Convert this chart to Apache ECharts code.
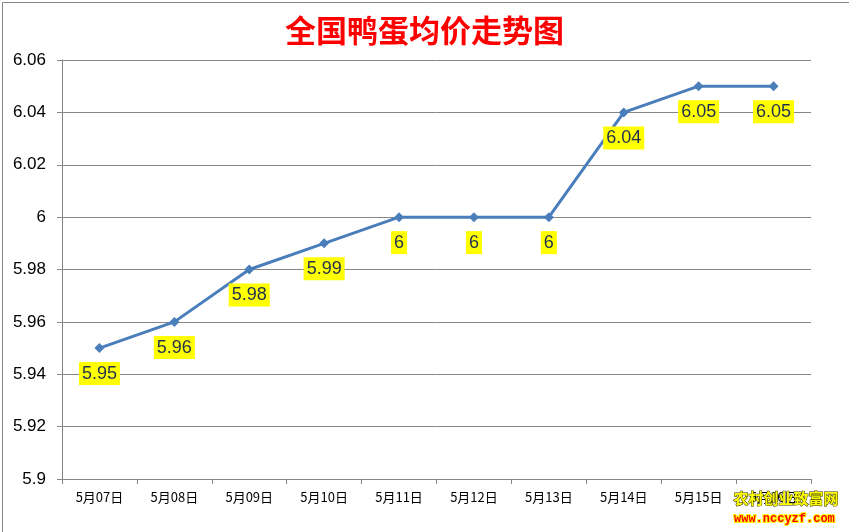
<!DOCTYPE html>
<html>
<head>
<meta charset="utf-8">
<script src="https://cdn.jsdelivr.net/npm/echarts@6/dist/echarts.min.js"></script>
<style>html,body{margin:0;padding:0;background:#fff;}#c{width:849px;height:532px;}</style>
</head>
<body>
<div id="c"></div>
<script>
var categories = ['5月07日','5月08日','5月09日','5月10日','5月11日','5月12日','5月13日','5月14日','5月15日','5月16日'];
var prices = [5.95, 5.96, 5.98, 5.99, 6, 6, 6, 6.04, 6.05, 6.05];
var yTicks = { min: 5.9, max: 6.06, interval: 0.02 };

var chart = echarts.init(document.getElementById('c'));
chart.setOption({
  animation: false,
  backgroundColor: '#fff',
  title: {
    text: '全国鸭蛋均价走势图',
    left: 'center',
    top: 10,
    textStyle: { color: '#FF0000', fontSize: 31, fontWeight: 'bold', fontFamily: 'Noto Sans CJK SC' }
  },
  grid: { left: 62, right: 38, top: 60, bottom: 53, containLabel: false },
  xAxis: {
    type: 'category',
    data: categories,
    boundaryGap: true,
    axisLine: { lineStyle: { color: '#868686', width: 1 } },
    axisTick: { show: true, length: 5, lineStyle: { color: '#868686' } },
    axisLabel: { color: '#000', fontSize: 13, margin: 12, fontFamily: 'Noto Sans CJK SC', interval: 0 }
  },
  yAxis: {
    type: 'value',
    min: yTicks.min, max: yTicks.max, interval: yTicks.interval,
    axisLine: { show: true, lineStyle: { color: '#868686', width: 1 } },
    axisTick: { show: true, length: 5, lineStyle: { color: '#868686' } },
    splitLine: { lineStyle: { color: '#868686', width: 1 } },
    axisLabel: {
      color: '#000', fontSize: 17, margin: 16, fontFamily: 'Liberation Sans',
      formatter: function (v) { return String(parseFloat(v.toFixed(2))); }
    }
  },
  series: [{
    type: 'line',
    data: prices,
    symbol: 'diamond',
    symbolSize: 10,
    lineStyle: { color: '#4A7EBB', width: 3 },
    itemStyle: { color: '#4A7EBB' },
    label: {
      show: true,
      position: 'bottom',
      distance: 9,
      color: '#1F3050',
      fontSize: 18,
      fontFamily: 'Liberation Sans',
      backgroundColor: '#FFFF00',
      padding: [3, 3, 2, 3],
      formatter: function (p) { return String(p.value); }
    }
  }],
  graphic: [
    { type: 'rect', left: 0, top: 0, shape: { width: 848, height: 531 }, style: { fill: 'none', stroke: '#868686', lineWidth: 1 }, z: 100 },
    { type: 'text', left: 733, top: 490, style: { text: '农村创业致富网', fill: '#FFFF00', stroke: '#333300', lineWidth: 1, font: 'bold 15px "Noto Sans CJK SC"' }, z: 101 },
    { type: 'text', left: 733, top: 512, style: { text: 'www.nccyzf.com', fill: '#FF0000', stroke: '#FFFF00', lineWidth: 2, font: 'bold 12px "Liberation Mono"' }, z: 101 }
  ]
});
</script>
</body>
</html>
